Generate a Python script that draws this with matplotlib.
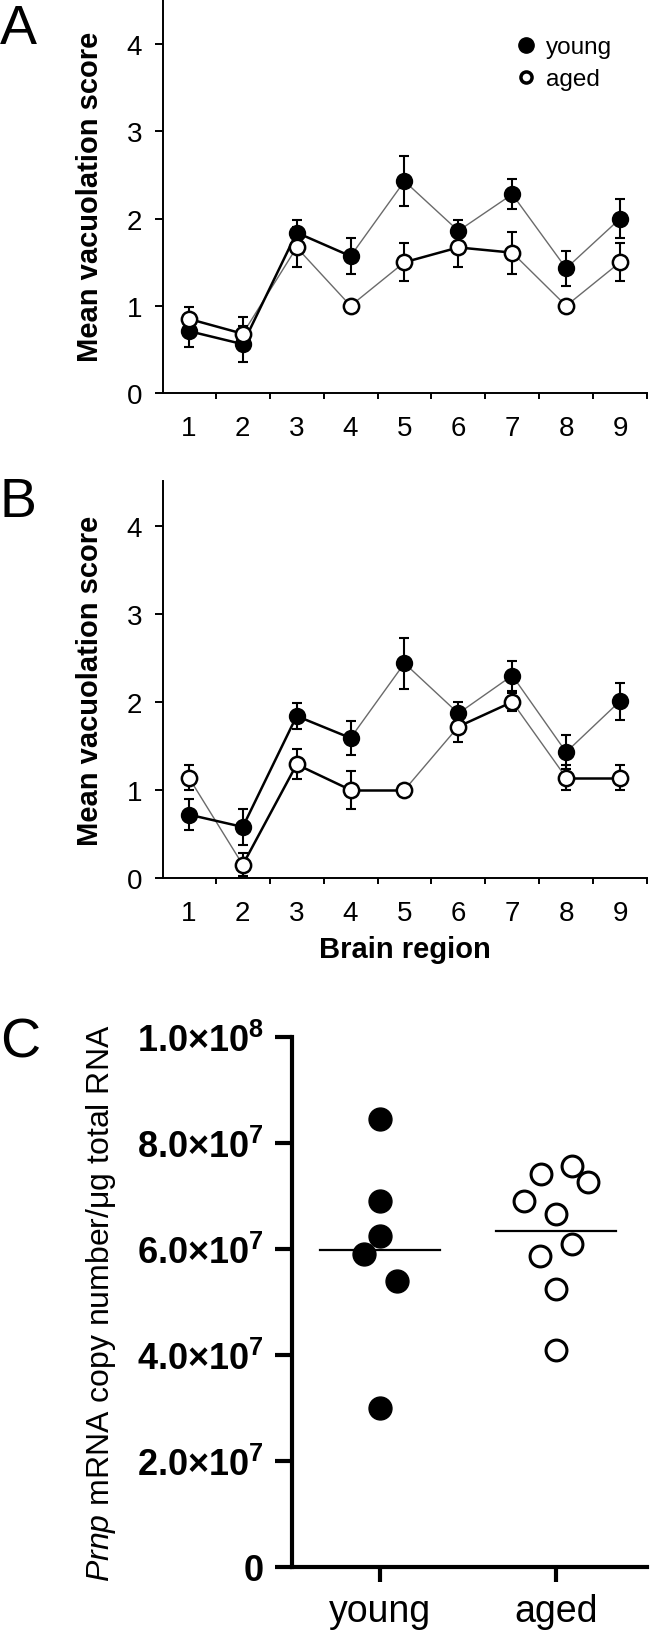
import numpy as np
import matplotlib.pyplot as plt
from matplotlib.lines import Line2D

plt.rcParams['font.family'] = ['Liberation Sans', 'DejaVu Sans']
plt.rcParams['mathtext.fontset'] = 'custom'
plt.rcParams['mathtext.rm'] = 'Liberation Sans'
plt.rcParams['mathtext.it'] = 'Liberation Sans:italic'
plt.rcParams['mathtext.bf'] = 'Liberation Sans:bold'

regions = [1, 2, 3, 4, 5, 6, 7, 8, 9]

# panel A
a_young = [0.71, 0.56, 1.84, 1.57, 2.43, 1.86, 2.28, 1.43, 2.00]
a_young_err = [0.18, 0.21, 0.15, 0.21, 0.29, 0.13, 0.17, 0.20, 0.22]
a_aged = [0.85, 0.68, 1.67, 1.00, 1.50, 1.67, 1.61, 1.00, 1.50]
a_aged_err = [0.14, 0.19, 0.23, 0.0, 0.22, 0.23, 0.24, 0.0, 0.22]

# panel B
b_young = [0.72, 0.58, 1.84, 1.59, 2.44, 1.87, 2.30, 1.43, 2.01]
b_young_err = [0.18, 0.20, 0.15, 0.19, 0.29, 0.13, 0.17, 0.19, 0.21]
b_aged = [1.14, 0.15, 1.29, 1.00, 1.00, 1.72, 2.00, 1.14, 1.14]
b_aged_err = [0.14, 0.13, 0.17, 0.22, 0.0, 0.18, 0.10, 0.14, 0.14]

# which line segments are drawn heavy (1) or thin grey (0)
a_young_heavy = [1, 1, 1, 0, 0, 0, 0, 0]
a_aged_heavy = [1, 0, 0, 0, 1, 1, 0, 0]
b_young_heavy = [1, 1, 1, 0, 0, 0, 0, 0]
b_aged_heavy = [0, 1, 1, 1, 0, 1, 0, 1]

# panel C
groups = ['young', 'aged']
c_young = [8.45e7, 6.9e7, 6.25e7, 5.9e7, 5.4e7, 3.0e7]
c_young_dx = [0, 0, 0, -0.09, 0.095, 0]
c_aged = [7.41e7, 7.56e7, 7.26e7, 6.9e7, 6.66e7, 6.1e7, 5.86e7, 5.24e7, 4.1e7]
c_aged_dx = [-0.085, 0.09, 0.18, -0.18, 0, 0.09, -0.09, 0, 0]
c_yticks = [0, 2e7, 4e7, 6e7, 8e7, 1e8]
c_yticklabels = ['0', r'2.0{\times}10^{7}', r'4.0{\times}10^{7}', r'6.0{\times}10^{7}',
                 r'8.0{\times}10^{7}', r'1.0{\times}10^{8}']

W, H = 650, 1633
fig = plt.figure(figsize=(W / 100, H / 100), dpi=100)


def box(x0, x1, ytop, ybot):
    return [x0 / W, 1 - ybot / H, (x1 - x0) / W, (ybot - ytop) / H]


def line_panel(ax, young, young_err, aged, aged_err, young_heavy, aged_heavy, top):
    for vals, heavy in [(young, young_heavy), (aged, aged_heavy)]:
        for i in range(len(regions) - 1):
            if heavy[i]:
                ax.plot(regions[i:i + 2], vals[i:i + 2], color='black', lw=1.8, zorder=2)
            else:
                ax.plot(regions[i:i + 2], vals[i:i + 2], color='#6a6a6a', lw=1.0, zorder=1)
    ax.errorbar(regions, young, yerr=young_err, fmt='none', ecolor='black',
                elinewidth=1.5, capsize=3.6, capthick=1.5, zorder=3)
    ax.errorbar(regions, aged, yerr=aged_err, fmt='none', ecolor='black',
                elinewidth=1.5, capsize=3.6, capthick=1.5, zorder=3)
    ax.plot(regions, young, 'o', ms=11, mfc='black', mec='black', mew=1.5, ls='none', zorder=4)
    ax.plot(regions, aged, 'o', ms=11, mfc='white', mec='black', mew=1.8, ls='none', zorder=5)
    ax.set_xlim(0.52, 9.5)
    ax.set_ylim(0, top)
    ax.spines['top'].set_visible(False)
    ax.spines['right'].set_visible(False)
    ax.spines['left'].set_linewidth(1.4)
    ax.spines['bottom'].set_linewidth(1.4)
    ax.set_yticks([0, 1, 2, 3, 4])
    ax.set_xticks(regions)
    ax.set_xticks(np.arange(1.5, 10, 1), minor=True)
    ax.tick_params(axis='y', length=6, width=1.4, labelsize=20, pad=9)
    ax.tick_params(axis='x', which='major', length=0, labelsize=20, pad=16)
    ax.tick_params(axis='x', which='minor', length=4, width=1.4)
    ax.set_ylabel('Mean vacuolation score', fontsize=21, fontweight='bold', labelpad=16)


axA = fig.add_axes(box(163, 647, 0, 394))
line_panel(axA, a_young, a_young_err, a_aged, a_aged_err, a_young_heavy, a_aged_heavy, 4.52)
handles = [Line2D([], [], marker='o', ls='none', ms=11, mfc='black', mec='black'),
           Line2D([], [], marker='o', ls='none', ms=8, mfc='white', mec='black', mew=2.5)]
axA.legend(handles, ['young', 'aged'], loc='upper left', bbox_to_anchor=(0.71, 0.93),
           frameon=False, fontsize=17.5, handlelength=0.8, handletextpad=0.4,
           labelspacing=0.4, borderaxespad=0)

axB = fig.add_axes(box(163, 647, 482, 879))
line_panel(axB, b_young, b_young_err, b_aged, b_aged_err, b_young_heavy, b_aged_heavy, 4.51)
axB.set_xlabel('Brain region', fontsize=21, fontweight='bold', labelpad=6)

axC = fig.add_axes(box(292, 647, 1038, 1568))
xs = np.arange(len(groups))
axC.plot(xs[0] + np.array(c_young_dx), c_young, 'o', ms=16.5, mfc='black', mec='black',
         ls='none', clip_on=False, zorder=3)
axC.plot(xs[1] + np.array(c_aged_dx), c_aged, 'o', ms=15, mfc='white', mec='black',
         mew=2.2, ls='none', clip_on=False, zorder=3)
for x, vals in zip(xs, [c_young, c_aged]):
    m = np.mean(vals)
    axC.plot([x - 0.34, x + 0.34], [m, m], color='black', lw=1.6, zorder=2)
axC.set_xlim(-0.5, 1.517)
axC.set_ylim(0, 1e8)
axC.spines['top'].set_visible(False)
axC.spines['right'].set_visible(False)
axC.spines['left'].set_linewidth(3)
axC.spines['bottom'].set_linewidth(3)
axC.set_xticks(xs)
axC.set_xticklabels(groups)
axC.set_yticks(c_yticks)
axC.set_yticklabels([r'$\mathbf{%s}$' % s if s != '0' else '0' for s in c_yticklabels],
                    fontweight='bold')
axC.tick_params(axis='y', length=12, width=3, labelsize=26, pad=8)
axC.tick_params(axis='x', length=11, width=3, labelsize=27, pad=8)
axC.set_ylabel('$\\mathit{Prnp}$ mRNA copy number/\u03bcg total RNA', fontsize=23, labelpad=14)

fig.text(0 / W, 1 - 4 / H, 'A', fontsize=40, va='top', ha='left')
fig.text(0 / W, 1 - 477 / H, 'B', fontsize=40, va='top', ha='left')
fig.text(0 / W, 1 - 1017 / H, 'C', fontsize=40, va='top', ha='left')

fig.savefig('out.png', dpi=100)
